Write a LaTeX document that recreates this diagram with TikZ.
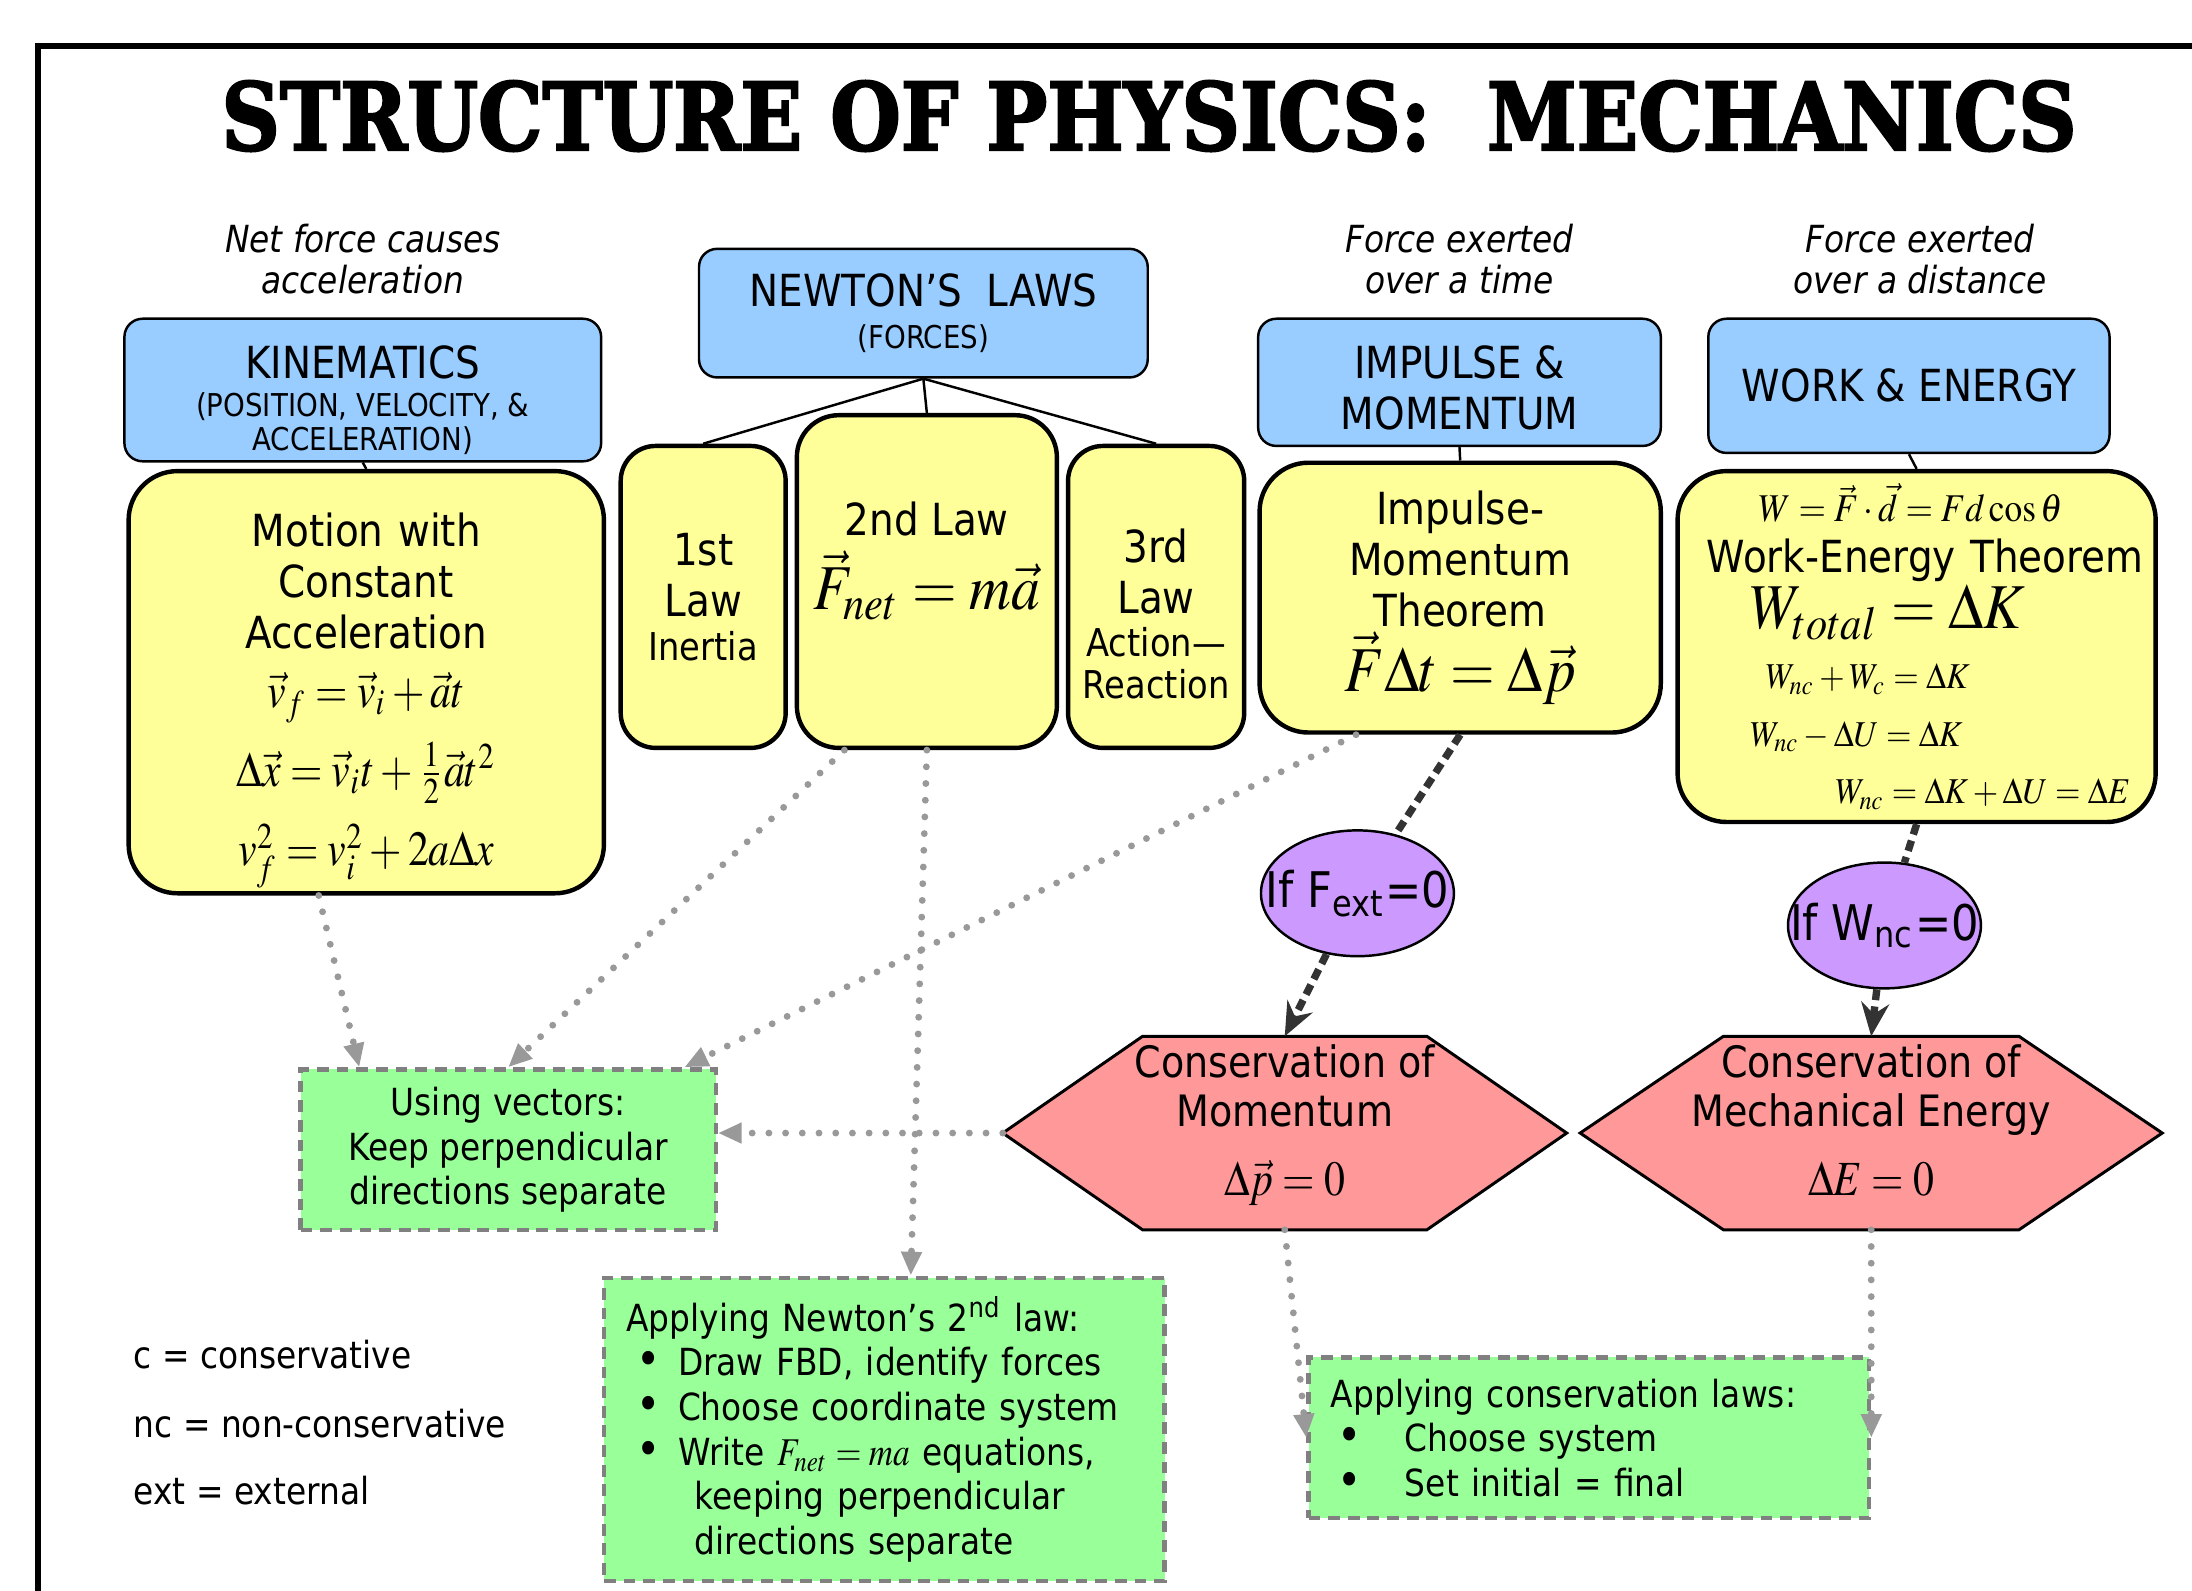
\documentclass[tikz,border=0pt]{standalone}
\usepackage{graphicx}
\usepackage{mathptmx}
\usepackage[no-math]{fontspec}
\setmainfont{DejaVu Sans}[FakeStretch=0.88]
\newfontfamily\titlefont{DejaVu Serif}[BoldFeatures={FakeBold=2.6}]
\usetikzlibrary{arrows.meta,positioning,shapes.geometric,calc,backgrounds}
\definecolor{topicblue}{HTML}{99CCFF}
\definecolor{ideayellow}{HTML}{FFFF99}
\definecolor{condpurple}{HTML}{CC99FF}
\definecolor{lawred}{HTML}{FF9999}
\definecolor{toolgreen}{HTML}{99FF99}
\definecolor{dotgray}{HTML}{999999}
\definecolor{boxgray}{HTML}{808080}
\definecolor{chaindark}{HTML}{333333}
\newcommand\blt[2][0.07cm]{\makebox[#2][l]{\hspace{#1}{\fontsize{9.5}{9}\selectfont\textbullet}}}
\newcommand\eqbig[1]{\scalebox{0.9}[1]{\fontsize{13}{15}\selectfont$#1$}}
\newcommand\eqmid[1]{\scalebox{0.85}[1]{\fontsize{10}{12}\selectfont$#1$}}
\newcommand\eqsmall[1]{\scalebox{0.9}[1]{\fontsize{7.4}{9}\selectfont$#1$}}
\newcommand\eqtext[1]{\scalebox{0.85}[1]{\fontsize{8}{9}\selectfont$#1$}}
\newcommand\capsmall[1]{{\fontsize{6.4}{7.2}\selectfont #1}}
\newcommand\lawsmall[1]{{\fontsize{7.8}{9}\selectfont #1}}
\newcommand\lift[1]{\rule{0pt}{#1}}

\begin{document}
\begin{tikzpicture}[
  topic/.style={draw, fill=topicblue, rounded corners=0.13cm, line width=0.5pt,
    inner sep=0pt, align=center, font=\fontsize{9}{10.4}\selectfont},
  idea/.style={draw, fill=ideayellow, rounded corners=0.35cm, line width=0.9pt,
    inner sep=0pt, align=center, font=\fontsize{9}{10.4}\selectfont},
  cond/.style={draw, ellipse, fill=condpurple, line width=0.5pt, inner sep=0pt,
    minimum width=1.38cm, minimum height=0.9cm, font=\fontsize{10}{12}\selectfont},
  result/.style={inner sep=0pt, align=center, font=\fontsize{8.8}{9.8}\selectfont},
  hexline/.style={draw, fill=lawred, line width=0.6pt},
  tool/.style={draw=boxgray, fill=toolgreen, line width=0.9pt, dash pattern=on 2.4pt off 1.6pt,
    inner sep=0pt, align=center, font=\fontsize{7.6}{9.1}\selectfont},
  note/.style={inner sep=0pt, align=center, font=\fontsize{7.6}{8.3}\selectfont\itshape},
  legend/.style={inner sep=0pt, anchor=west, font=\fontsize{7.6}{9}\selectfont},
  branch/.style={line width=0.5pt},
  hint/.style={dotgray, line width=1.4pt, line cap=round, dash pattern=on 0pt off 3.4pt,
    -{Triangle[length=0.17cm, width=0.14cm]}},
  chain/.style={chaindark, line width=1.5pt, dash pattern=on 2.2pt off 1.3pt},
  implies/.style={chain, -{Stealth[length=0.24cm, width=0.2cm, inset=0.08cm]}},
]
\useasboundingbox (0,0) rectangle (15.68,-11.38);
\draw[line width=1.2pt] (0.27,-11.6) -- (0.27,-0.33) -- (15.9,-0.33);

\node (title) at (8.22,-0.83)
  {\scalebox{0.867}[1]{\titlefont\bfseries\fontsize{19}{22}\selectfont STRUCTURE OF PHYSICS:\ \ MECHANICS}};

% topics
\node[topic, minimum width=3.41cm, minimum height=1.02cm] (kin) at (2.595,-2.79)
  {\lift{0.38cm}KINEMATICS\\[-2.5pt]\capsmall{(POSITION, VELOCITY, \&}\\[-3.5pt]\capsmall{ACCELERATION)}};
\node[topic, minimum width=3.21cm, minimum height=0.92cm] (newton) at (6.605,-2.24)
  {NEWTON’S\ \ LAWS\\[-2pt]\capsmall{(FORCES)}};
\node[topic, minimum width=2.88cm, minimum height=0.91cm] (imp) at (10.44,-2.735)
  {\lift{0.32cm}IMPULSE \&\\MOMENTUM};
\node[topic, minimum width=2.87cm, minimum height=0.96cm] (work) at (13.655,-2.76)
  {WORK \& ENERGY};

\node[note, above=0.16cm of kin] (kinnote) {Net force causes\\acceleration};
\node[note, above=0.16cm of imp] (impnote) {Force exerted\\over a time};
\node[note, above=0.16cm of work, xshift=0.08cm] (worknote) {Force exerted\\over a distance};

% main ideas
\node[idea, minimum width=3.40cm, minimum height=3.02cm, text width=3.2cm] (motion) at (2.62,-4.88)
  {\lineskiplimit=-20pt
   \lift{0.5cm}Motion with\\Constant\\Acceleration\\[1.6pt]
   \eqmid{\vec v_f=\vec v_i+\vec a t}\\[5.6pt]
   \eqmid{\Delta\vec x=\vec v_i t+\frac{1}{2}\vec a t^2}\\[3.2pt]
   \eqmid{v_f^2=v_i^2+2a\Delta x}};
\node[idea, rounded corners=0.25cm, minimum width=1.18cm, minimum height=2.16cm] (law1) at (5.03,-4.27)
  {1st\\Law\\[-1.5pt]\lawsmall{Inertia}};
\node[idea, rounded corners=0.3cm, minimum width=1.86cm, minimum height=2.38cm] (law2) at (6.63,-4.16)
  {2nd Law\\[2pt]\eqbig{\vec F_{net}=m\vec a}\\ \mbox{}};
\node[idea, rounded corners=0.25cm, minimum width=1.26cm, minimum height=2.16cm] (law3) at (8.27,-4.27)
  {\lift{0.48cm}3rd\\Law\\[-1.5pt]\lawsmall{Action—}\\[-2pt]\lawsmall{Reaction}};
\node[idea, minimum width=2.87cm, minimum height=1.93cm] (impthm) at (10.445,-4.275)
  {Impulse-\\Momentum\\Theorem\\\eqbig{\vec F\Delta t=\Delta\vec p}};
\node[idea, minimum width=3.42cm, minimum height=2.51cm, text width=3.30cm, align=left,
  inner xsep=0.06cm] (workthm) at (13.71,-4.625)
  {\lineskiplimit=-20pt
   \hspace*{0.52cm}\scalebox{0.9}[1]{\fontsize{8}{9}\selectfont$W=\vec F\cdot\vec d=Fd\cos\theta$}\\
   \hspace*{0.15cm}Work-Energy Theorem\\[1pt]
   \hspace*{0.46cm}\eqbig{W_{total}=\Delta K}\\[1.8pt]
   \hspace*{0.57cm}\eqsmall{W_{nc}+W_c=\Delta K}\\[1.3pt]
   \hspace*{0.46cm}\eqsmall{W_{nc}-\Delta U=\Delta K}\\[1.3pt]
   \hspace*{1.07cm}\eqsmall{W_{nc}=\Delta K+\Delta U=\Delta E}};

% conditions and conservation laws
\node[cond] (fext) at (9.71,-6.39) {\makebox[0pt]{If F\textsubscript{ext}=0}};
\node[cond] (wnc) at (13.48,-6.62) {\makebox[0pt]{If W\textsubscript{nc}=0}};
\node[result, minimum width=4.02cm, minimum height=1.37cm] (conmom) at (9.19,-8.105)
  {Conservation of\\Momentum\\[4.4pt]\eqmid{\Delta\vec p=0}\\[-4.7pt]\mbox{}};
\node[result, minimum width=4.15cm, minimum height=1.37cm] (conen) at (13.385,-8.105)
  {Conservation of\\Mechanical Energy\\[4.4pt]\eqmid{\Delta E=0}\\[-4.7pt]\mbox{}};
\begin{pgfonlayer}{background}
  \draw[hexline] (conmom.west) -- ($(conmom.north west)+(1,0)$) -- ($(conmom.north east)+(-1,0)$)
    -- (conmom.east) -- ($(conmom.south east)+(-1,0)$) -- ($(conmom.south west)+(1,0)$) -- cycle;
  \draw[hexline] (conen.west) -- ($(conen.north west)+(1.025,0)$) -- ($(conen.north east)+(-1.025,0)$)
    -- (conen.east) -- ($(conen.south east)+(-1.025,0)$) -- ($(conen.south west)+(1.025,0)$) -- cycle;
\end{pgfonlayer}

% methods
\node[tool, minimum width=2.97cm, minimum height=1.15cm] (vec) at (3.635,-8.225)
  {Using vectors:\\Keep perpendicular\\directions separate};
\node[tool, minimum width=4.01cm, minimum height=2.17cm, text width=3.69cm, align=left,
  inner xsep=0.16cm] (newt2) at (6.325,-10.225)
  {\hyphenpenalty=10000
   Applying Newton’s 2\textsuperscript{nd} law:\\
   \blt{0.37cm}Draw FBD, identify forces\\
   \blt{0.37cm}Choose coordinate system\\
   \blt{0.37cm}Write \eqtext{F_{net}=ma}\ equations,\\
   \hspace*{0.49cm}keeping perpendicular\\
   \hspace*{0.49cm}directions separate};
\node[tool, minimum width=4.01cm, minimum height=1.15cm, text width=3.69cm, align=left,
  inner xsep=0.16cm] (cons) at (11.365,-10.285)
  {Applying conservation laws:\\
   \blt[0.05cm]{0.53cm}Choose system\\
   \blt[0.05cm]{0.53cm}Set initial = final};

\node[legend] (lc) at (0.95,-9.69) {c = conservative};
\node[legend] (lnc) at (0.95,-10.18) {nc = non-conservative};
\node[legend] (lext) at (0.95,-10.66) {ext = external};

% tree
\draw[branch] (kin.south) -- (motion.north);
\draw[branch] (newton.south) -- (law1.north);
\draw[branch] (newton.south) -- (law2.north);
\draw[branch] (newton.south) -- (law3.north);
\draw[branch] (imp.south) -- (impthm.north);
\draw[branch] (work.south) -- (workthm.north);

% consequences
\draw[chain] (impthm.south) -- (fext);
\draw[implies] (fext) -- (conmom.north);
\draw[chain] (workthm.south) -- (wnc);
\draw[implies] (wnc) -- (conen.north);

% where to use
\draw[hint] ([xshift=-0.34cm]motion.south) -- ([xshift=-1.065cm]vec.north);
\draw[hint] ([xshift=-0.59cm]law2.south) -- (vec.north);
\draw[hint] ([xshift=-0.745cm]impthm.south) -- ([xshift=-0.24cm]vec.north east);
\draw[hint] (conmom.west) -- (conmom.west -| vec.east);
\draw[hint] (law2.south) -- ([xshift=0.19cm]newt2.north);
\draw[hint] (conmom.south) -- (cons.west);
\draw[hint] (conen.south) -- (cons.east);
\end{tikzpicture}
\end{document}
